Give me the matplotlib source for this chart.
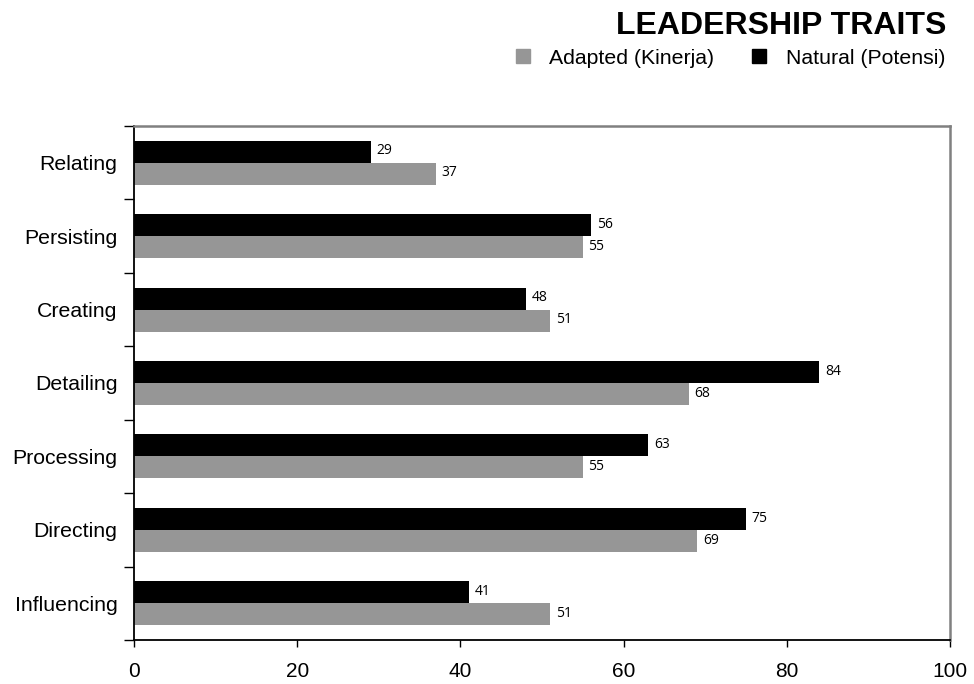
import matplotlib
matplotlib.use("Agg")
import matplotlib.pyplot as plt
import numpy as np
from matplotlib.lines import Line2D

plt.rcParams['font.family'] = ['Liberation Sans', 'DejaVu Sans']

# Leadership traits, listed top to bottom
traits = ["Relating", "Persisting", "Creating", "Detailing",
          "Processing", "Directing", "Influencing"]
natural = [29, 56, 48, 84, 63, 75, 41]   # Natural (Potensi)
adapted = [37, 55, 51, 68, 55, 69, 51]   # Adapted (Kinerja)
x_ticks = [0, 20, 40, 60, 80, 100]

c_adapted = "#969696"
c_natural = "#000000"

fig = plt.figure(figsize=(9.74, 6.84), dpi=100)
ax = fig.add_axes([134 / 974, 44 / 684, 816 / 974, 514 / 684])

pos = np.arange(len(traits))
h = 0.3
ax.barh(pos - h / 2, natural, height=h, color=c_natural, edgecolor="none")
ax.barh(pos + h / 2, adapted, height=h, color=c_adapted, edgecolor="none")

val_font = ["Open Sans", "DejaVu Sans"]
for p, v in zip(pos, natural):
    ax.text(v + 0.7, p - h / 2 - 0.01, str(v), va="center", ha="left",
            fontsize=10, family=val_font)
for p, v in zip(pos, adapted):
    ax.text(v + 0.7, p + h / 2 - 0.01, str(v), va="center", ha="left",
            fontsize=10, family=val_font)

ax.set_xlim(0, 100)
ax.set_ylim(len(traits) - 0.5, -0.5)

ax.set_xticks(x_ticks)
ax.set_xticklabels([str(t) for t in x_ticks])
ax.tick_params(axis="x", direction="out", length=5, width=1, pad=11,
               labelsize=15, color="black")

ax.set_yticks(pos)
ax.set_yticklabels(traits)
ax.set_yticks(np.arange(len(traits) + 1) - 0.5, minor=True)
ax.tick_params(axis="y", which="major", length=0, pad=12, labelsize=15.3)
ax.tick_params(axis="y", which="minor", direction="out", length=7, width=1,
               color="black")

ax.spines["left"].set_color("black")
ax.spines["bottom"].set_color("black")
ax.spines["left"].set_linewidth(1.3)
ax.spines["bottom"].set_linewidth(1.3)
ax.spines["top"].set_color("#808080")
ax.spines["right"].set_color("#808080")
ax.spines["top"].set_linewidth(1.8)
ax.spines["right"].set_linewidth(1.8)

fig.text(946 / 974, 1 - 26 / 684, "LEADERSHIP TRAITS", ha="right",
         va="center", fontsize=23, fontweight="bold")

handles = [
    Line2D([], [], marker="s", linestyle="none", markersize=10,
           markerfacecolor=c_adapted, markeredgecolor=c_adapted,
           label="Adapted (Kinerja)"),
    Line2D([], [], marker="s", linestyle="none", markersize=10,
           markerfacecolor=c_natural, markeredgecolor=c_natural,
           label="Natural (Potensi)"),
]
fig.legend(handles=handles, loc="center right",
           bbox_to_anchor=(945 / 974, 1 - 58 / 684), ncol=2, frameon=False,
           fontsize=15.3, handletextpad=0.75, columnspacing=1.6,
           handlelength=1.0, borderaxespad=0, borderpad=0)

fig.savefig("out.png", dpi=100)
